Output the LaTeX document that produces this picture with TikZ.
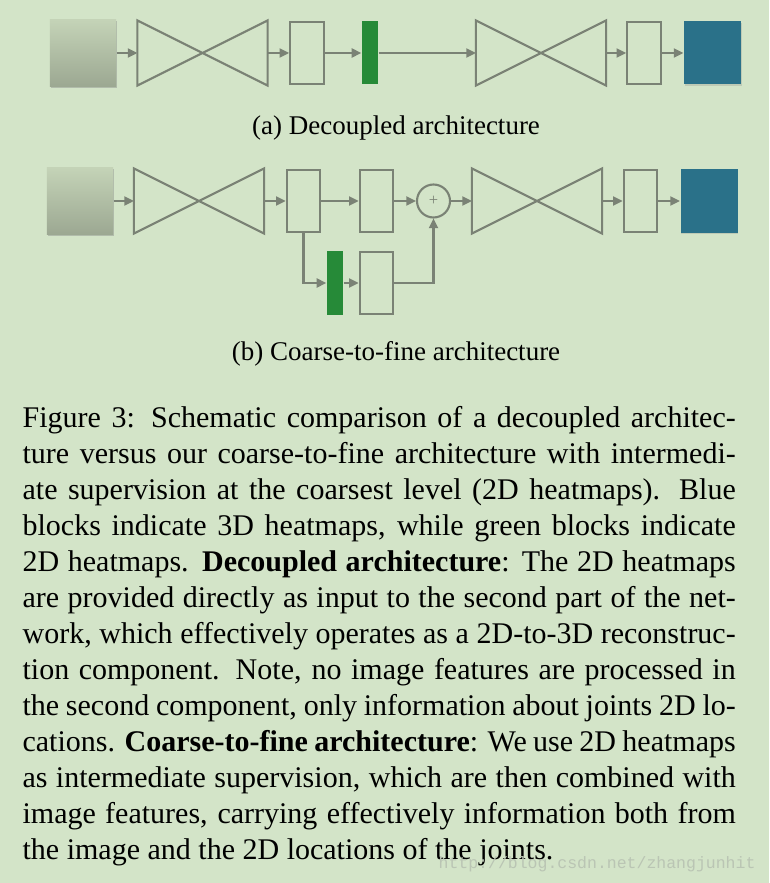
\documentclass[tikz,border=0pt]{standalone}
\usepackage{fontspec}
\setmainfont{Liberation Serif}
\newfontfamily\urlfont{Liberation Mono}
\usetikzlibrary{arrows.meta,shadows}
\definecolor{figBackground}{HTML}{D3E4C8}
\definecolor{blockGray}{HTML}{7A8275}
\definecolor{heatTwoD}{HTML}{268A38}
\definecolor{heatThreeD}{HTML}{2A7189}
\definecolor{inputTop}{HTML}{C4D3B7}
\definecolor{inputBottom}{HTML}{9CA892}
\definecolor{markGray}{HTML}{BAC5B4}

\begin{document}
\begin{tikzpicture}[x=0.3333pt, y=-0.3333pt,
            conn/.style={draw=blockGray, line width=0.7pt},
            flow/.style={conn, -{Triangle[length=3.2pt, width=3pt]}},
            inputimg/.style={rectangle, inner sep=0pt, minimum width=22pt, minimum height=22.2pt, top color=inputTop, bottom color=inputBottom, drop shadow={shadow xshift=0.2pt, shadow yshift=-0.6pt, opacity=0.4}},
            hourglass/.style={rectangle, inner sep=0pt, minimum width=43pt, minimum height=21.3pt},
            feat/.style={rectangle, conn, inner sep=0pt, minimum width=11.2pt, minimum height=20.6pt},
            hmap/.style={rectangle, fill=heatTwoD, inner sep=0pt, minimum width=5.4pt, minimum height=21pt},
            vol/.style={rectangle, fill=heatThreeD, inner sep=0pt, minimum width=19pt, minimum height=21pt, drop shadow={shadow xshift=0.2pt, shadow yshift=-0.5pt, opacity=0.25}},
            plus/.style={circle, conn, inner sep=0pt, minimum size=11pt, text=blockGray, font=\fontsize{5.5}{5.5}\selectfont},
            subcap/.style={anchor=base, inner sep=0pt, font=\fontsize{9}{11}\selectfont}]
            \fill[figBackground] (0,0) rectangle (769,883);
            \useasboundingbox (0,0) rectangle (769,883);

            \node[inputimg] (inA) at (83,53) {};
            \node[hourglass] (hgA1) at (202.5,53) {};
            \node[feat] (fA1) at (307,53) {};
            \node[hmap] (gA) at (370,53) {};
            \node[hourglass] (hgA2) at (541,53) {};
            \node[feat] (fA2) at (644,53) {};
            \node[vol] (bA) at (712.5,53) {};
            \node[subcap] (capA) at (396,135) {(a) Decoupled architecture};

            \node[inputimg] (inB) at (80,201) {};
            \node[hourglass] (hgB1) at (199,201) {};
            \node[feat] (fB1) at (303.5,201) {};
            \node[feat] (fB2) at (376.5,201) {};
            \node[plus] (sum) at (433.5,201) {+};
            \node[hourglass] (hgB2) at (537,201) {};
            \node[feat] (fB3) at (640.5,201) {};
            \node[vol] (bB) at (709,201) {};
            \node[hmap] (gB) at (335,283) {};
            \node[feat] (fB4) at (376.5,283) {};
            \node[subcap] (capB) at (396,360) {(b) Coarse-to-fine architecture};

            \foreach \h in {hgA1,hgA2,hgB1,hgB2}
                \draw[conn] (\h.north west) -- (\h.south east) -- (\h.north east) -- (\h.south west) -- cycle;
            \foreach \a/\b in {inA/hgA1,hgA1/fA1,fA1/gA,gA/hgA2,hgA2/fA2,fA2/bA,
                               inB/hgB1,hgB1/fB1,fB1/fB2,fB2/sum,sum/hgB2,hgB2/fB3,fB3/bB,gB/fB4}
                \draw[flow] (\a) -- (\b);
            \draw[flow] (fB1.south) |- (gB.west);
            \draw[flow] (fB4.east) -| (sum.south);

            \node[anchor=north west, inner sep=0pt, text width=237.7pt, align=justify, font=\fontsize{10}{12}\selectfont] (caption) at (22,406) {%
                Figure 3: Schematic comparison of a decoupled architec-\linebreak
                ture versus our coarse-to-fine architecture with intermedi-\linebreak
                ate supervision at the coarsest level (2D heatmaps). Blue\linebreak
                blocks indicate 3D heatmaps, while green blocks indicate\linebreak
                2D heatmaps. \textbf{Decoupled architecture}: The 2D heatmaps\linebreak
                are provided directly as input to the second part of the net-\linebreak
                work, which effectively operates as a 2D-to-3D reconstruc-\linebreak
                tion component. Note, no image features are processed in\linebreak
                the second component, only information about joints 2D lo-\linebreak
                cations. \textbf{Coarse-to-fine architecture}: We use 2D heatmaps\linebreak
                as intermediate supervision, which are then combined with\linebreak
                image features, carrying effectively information both from\linebreak
                the image and the 2D locations of the joints.};
            \node[anchor=base west, inner sep=0pt, text=markGray, font=\urlfont\fontsize{5.5}{6}\selectfont] (mark) at (438,868) {http://blog.csdn.net/zhangjunhit};
        \end{tikzpicture}
\end{document}
